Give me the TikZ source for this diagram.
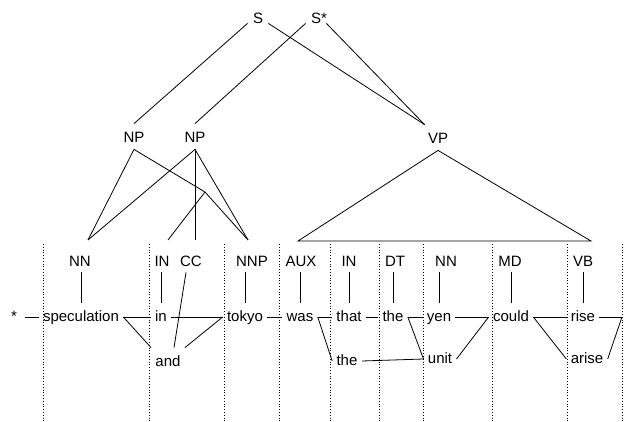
\documentclass[tikz,border=0pt]{standalone}
\usepackage{fontspec}
\setmainfont{Liberation Sans}
\usepackage{tikz}

\tikzset{
  phrase/.style={anchor=base, text height=11pt, text depth=0pt, inner xsep=3pt, inner ysep=7pt},
  root/.style={phrase, inner xsep=5pt, inner ysep=0pt},
  tag/.style={anchor=base, text height=11pt, text depth=0pt, inner ysep=6pt},
  word/.style={anchor=base, text height=11pt, text depth=3pt, inner xsep=4pt, inner ysep=7pt},
  guide/.style={line width=0.7pt, dash pattern=on 0.8pt off 2pt}
}

\begin{document}
\begin{tikzpicture}[x=1pt, y=-1pt, font=\fontsize{15}{18}\selectfont, line width=0.8pt]
\useasboundingbox (0,0) rectangle (624,421);
% Column guides
\foreach \x in {43,149,224,279,330,379,423,492,567,622}
    \draw[guide] (\x,244) -- (\x,421);
% Roots and phrases
\node[root] (S) at (258,23) {S};
\node[root] (Ss) at (316,23) {S\rlap{*}};
\node[phrase] (NPa) at (134,142) {NP};
\node[phrase] (NPb) at (195,142) {NP};
\node[phrase] (VP) at (438,143) {VP};
\coordinate (pp) at (205,192);
% Tags
\node[tag] (NN) at (80,266) {NN};
\node[tag] (IN) at (162,266) {IN};
\node[tag] (CC) at (191,266) {CC};
\node[tag] (NNP) at (252,266) {NNP};
\node[tag] (AUX) at (301,266) {AUX};
\node[tag] (INb) at (349,266) {IN};
\node[tag] (DT) at (395,266) {DT};
\node[tag] (NNb) at (446,266) {NN};
\node[tag] (MD) at (510,266) {MD};
\node[tag] (VB) at (583,266) {VB};
\coordinate (NN-top) at (88,240);
\coordinate (IN-top) at (168,240);
\coordinate (CC-top) at (195,240);
\coordinate (NNP-top) at (248,240);
\coordinate (vp-l) at (298,241);
\coordinate (vp-r) at (591,241);
% Words
\node[word, inner xsep=8pt] (star) at (14,321) {*};
\node[word] (spec) at (81,321) {speculation};
\node[word] (in) at (161,321) {in};
\node[word] (tokyo) at (245,321) {tokyo};
\node[word] (was) at (300,321) {was};
\node[word] (that) at (349,321) {that};
\node[word] (the) at (393,321) {the};
\node[word] (yen) at (439,321) {yen};
\node[word] (could) at (511,321) {could};
\node[word] (rise) at (583,321) {rise};
\node[word] (and) at (168,366) {and};
\node[word] (theb) at (347,365) {the};
\node[word] (unit) at (440,363) {unit};
\node[word] (arise) at (587,363) {arise};
\coordinate (rend) at (622,317);
% Tree edges
\draw (S.south west) -- (NPa.north);
\draw (S.south east) -- (VP.north west);
\draw (Ss.south west) -- (NPb.north);
\draw (Ss.south east) -- (VP.north west);
\draw (NPa.south) -- (NN-top);
\draw (NPa.south) -- (pp);
\draw (pp) -- (IN-top);
\draw (pp) -- (NNP-top);
\draw (NPb.south) -- (NN-top);
\draw (NPb.south) -- (CC-top);
\draw (NPb.south) -- (NNP-top);
\draw (VP.south) -- (vp-l) -- (vp-r) -- cycle;
% Tag to word
\foreach \t/\w in {NN/spec, IN/in, NNP/tokyo, AUX/was, INb/that, DT/the, NNb/yen, MD/could, VB/rise}
    \draw (\w.north |- \t.south) -- (\w.north);
\draw ([xshift=-5pt]CC.south) -- ([xshift=6pt]and.north);
% Word links
\draw (star.east) -- (spec.west);
\draw (spec.east) -- (in.west);
\draw (spec.east) -- (and.north west);
\draw (in.east) -- (tokyo.west);
\draw (tokyo.west) -- (and.north east);
\draw (tokyo.east) -- (was.west);
\draw (was.east) -- (that.west);
\draw (was.east) -- (theb.west);
\draw (that.east) -- (the.west);
\draw (the.east) -- (yen.west);
\draw (the.east) -- (unit.west);
\draw (theb.east) -- (unit.west);
\draw (yen.east) -- (could.west);
\draw (could.west) -- (unit.east);
\draw (could.east) -- (rise.west);
\draw (could.east) -- (arise.west);
\draw (rise.east) -- (rend);
\draw (rend) -- (arise.east);
\end{tikzpicture}
\end{document}
